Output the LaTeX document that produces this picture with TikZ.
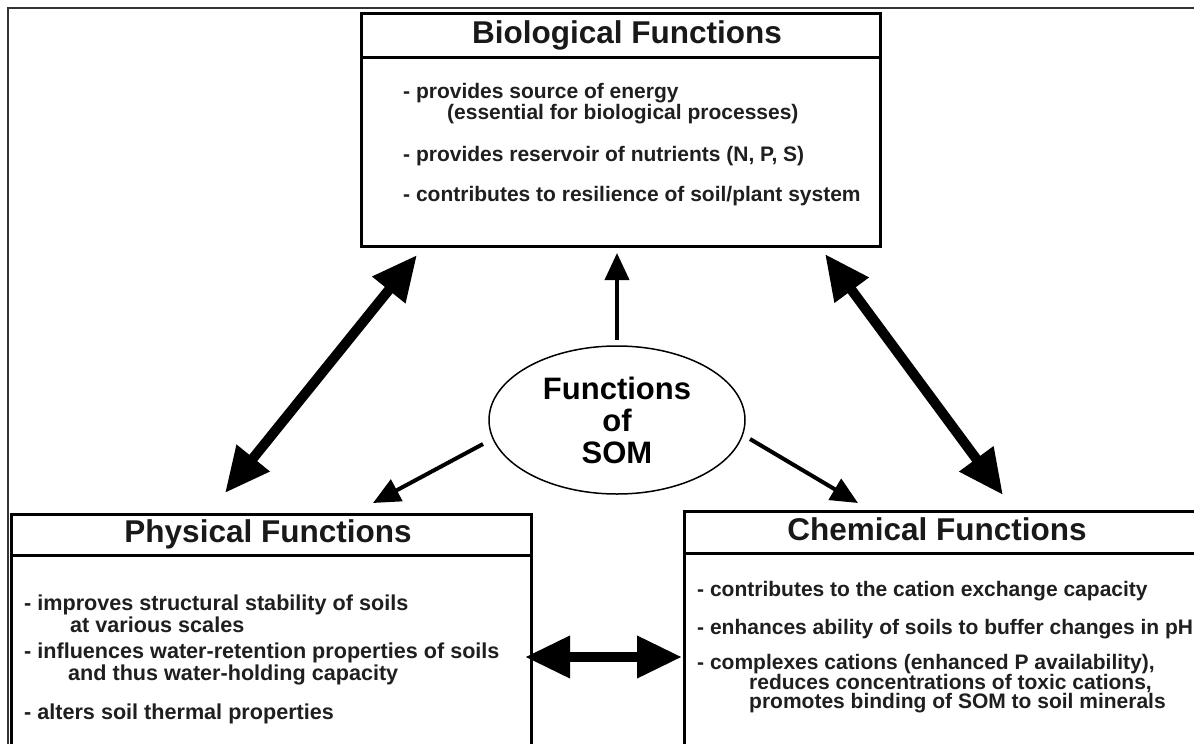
\documentclass[tikz,border=0pt]{standalone}
\usepackage{fontspec}
\setmainfont{Liberation Sans}
\usetikzlibrary{arrows.meta,shapes.geometric}
\begin{document}
\begin{tikzpicture}[x=1pt,y=-1pt,
  box/.style={draw=black,line width=3pt,inner sep=0pt,anchor=north west},
  head/.style={font=\fontsize{31.5}{33}\selectfont\bfseries,anchor=base,inner sep=0pt,text=black!90},
  item/.style={font=\fontsize{21}{23}\selectfont\bfseries,anchor=base west,inner sep=0pt,text=black!88},
  pitem/.style={font=\fontsize{21.6}{23}\selectfont\bfseries,anchor=base west,inner sep=0pt,text=black!88},
  bigarrow/.style={line width=10pt,{Triangle[length=45pt,width=40pt]}-{Triangle[length=45pt,width=40pt]}},
  smallarrow/.style={line width=4pt,-{Triangle[length=27pt,width=24pt]}}]
\clip (0,0) rectangle (1194,744);
\fill[white] (0,0) rectangle (1194,744);
% outer frame
\draw[line width=2pt,black!80] (8,8) rectangle (1220,770);
% boxes
\node[box,minimum width=519pt,minimum height=233pt] (bio) at (360,12) {};
\draw[line width=3pt] (bio.north west |- 0,57) coordinate (biol) -- (bio.north east |- 0,57) coordinate (bior);
\node[box,minimum width=520pt,minimum height=260pt] (phys) at (10,513) {};
\draw[line width=3pt] (phys.north west |- 0,555) coordinate (physl) -- (phys.north east |- 0,555) coordinate (physr);
\node[box,minimum width=560pt,minimum height=260pt] (chem) at (683,510) {};
\draw[line width=3pt] (chem.north west |- 0,553) coordinate (cheml) -- (chem.north east |- 0,553) coordinate (chemr);
% ellipse
\node[draw,ellipse,line width=1.5pt,minimum width=256pt,minimum height=148pt,
      align=center,font=\fontsize{31}{32}\selectfont\bfseries,inner sep=0pt] (som) at (617,420) {Functions\\of\\SOM};
% headers
\node[head] (bioh) at (627,43) {Biological Functions};
\node[head] (physh) at (268,542) {Physical Functions};
\node[head] (chemh) at (937,540) {Chemical Functions};
% biological items
\node[item] (b1) at (403,98) {- provides source of energy};
\node[item] (b1b) at (447,119) {(essential for biological processes)};
\node[item] (b2) at (403,161) {- provides reservoir of nutrients (N, P, S)};
\node[item] (b3) at (403,201) {- contributes to resilience of soil/plant system};
% physical items
\node[pitem] (p1) at (24,610) {- improves structural stability of soils};
\node[pitem] (p1b) at (70,632) {at various scales};
\node[pitem] (p2) at (24,658) {- influences water-retention properties of soils};
\node[pitem] (p2b) at (68,680) {and thus water-holding capacity};
\node[pitem] (p3) at (24,719) {- alters soil thermal properties};
% chemical items
\node[item] (c1) at (697,596) {- contributes to the cation exchange capacity};
\node[item] (c2) at (697,634) {- enhances ability of soils to buffer changes in pH};
\node[item] (c3) at (697,669) {- complexes cations (enhanced P availability),};
\node[item] (c3b) at (749,689) {reduces concentrations of toxic cations,};
\node[item] (c3c) at (749,708) {promotes binding of SOM to soil minerals};
% arrow end points
\coordinate (up0) at (617,340);
\coordinate (up1) at (617,253);
\coordinate (sl0) at (483,444);
\coordinate (sl1) at (373,503);
\coordinate (sr0) at (750,439);
\coordinate (sr1) at (858,503);
\coordinate (dl0) at (417,255);
\coordinate (dl1) at (225,493);
\coordinate (dr0) at (825,254);
\coordinate (dr1) at (1003,495);
\coordinate (h0) at (525,657);
\coordinate (h1) at (682,657);
% arrows
\draw[smallarrow] (up0) -- (up1);
\draw[smallarrow] (sl0) -- (sl1);
\draw[smallarrow] (sr0) -- (sr1);
\draw[bigarrow] (dl0) -- (dl1);
\draw[bigarrow] (dr0) -- (dr1);
\draw[bigarrow] (h0) -- (h1);
\end{tikzpicture}
\end{document}
